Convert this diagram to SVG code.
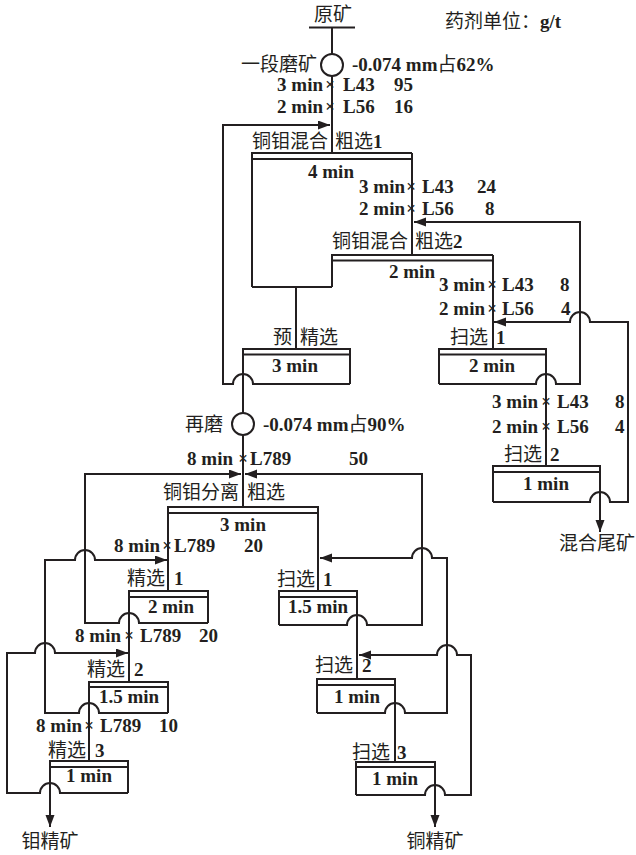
<svg xmlns="http://www.w3.org/2000/svg" width="636" height="855" viewBox="0 0 636 855">
<style>
.ln{fill:none;stroke:#231f20;stroke-width:2}
.cn{font-family:"Noto Sans CJK SC",sans-serif;font-size:19px;fill:#231f20}
.b{font-family:"Liberation Serif",serif;font-weight:bold;font-size:19px;fill:#231f20}
.x{font-family:"Liberation Serif",serif;font-weight:bold;font-size:17px;fill:#231f20;text-anchor:middle}
.r{font-family:"Liberation Serif",serif;font-size:19px;fill:#231f20}
.m{text-anchor:middle}
.e{text-anchor:end}
</style>
<defs>
<marker id="ar" markerUnits="userSpaceOnUse" markerWidth="13" markerHeight="10" refX="12" refY="4.5" orient="auto"><path d="M0,0 L12,4.5 L0,9 z" fill="#231f20"/></marker>
</defs>
<rect width="636" height="855" fill="#fff"/>

<g id="legend"><text x="445" y="28" class="cn">药剂单位：<tspan class="b">g/t</tspan></text></g>

<g id="feed"><text x="333" y="21" class="cn m">原矿</text><path class="ln" d="M309,27.5 L355,27.5"/></g>

<g id="grind1">
<circle cx="332" cy="65" r="11" class="ln"/>
<text x="317" y="71" class="cn e">一段磨矿</text>
<text x="352" y="71" class="b">-0.074 mm<tspan class="cn" font-weight="normal">占</tspan>62<tspan class="r">%</tspan></text>
<text x="323" y="91" class="b e">3 min</text><text x="330" y="90" class="x">×</text><text x="343" y="91" class="b">L43</text><text x="394" y="91" class="b">95</text>
<text x="323" y="113" class="b e">2 min</text><text x="330" y="112" class="x">×</text><text x="343" y="113" class="b">L56</text><text x="394" y="113" class="b">16</text>
</g>

<g id="rougher1">
<path class="ln" d="M252,287 L252,153 L412,153 M252,159 L412,159"/>
<text x="328" y="148" class="cn e">铜钼混合</text><text x="335" y="148" class="cn">粗选<tspan class="b">1</tspan></text>
<text x="331" y="178" class="b m">4 min</text>
<text x="405" y="193" class="b e">3 min</text><text x="411" y="192" class="x">×</text><text x="422" y="193" class="b">L43</text><text x="477" y="193" class="b">24</text>
<text x="405" y="215" class="b e">2 min</text><text x="411" y="214" class="x">×</text><text x="422" y="215" class="b">L56</text><text x="485" y="215" class="b">8</text>
</g>

<g id="rougher2">
<path class="ln" d="M332,287 L332,255 L493,255 M332,260.5 L493,260.5"/>
<text x="408" y="248" class="cn e">铜钼混合</text><text x="415" y="248" class="cn">粗选<tspan class="b">2</tspan></text>
<text x="412" y="278" class="b m">2 min</text>
<text x="485" y="291" class="b e">3 min</text><text x="492" y="290" class="x">×</text><text x="502" y="291" class="b">L43</text><text x="560" y="291" class="b">8</text>
<text x="485" y="315" class="b e">2 min</text><text x="492" y="314" class="x">×</text><text x="502" y="315" class="b">L56</text><text x="561" y="315" class="b">4</text>
</g>

<g id="precleaner">
<path class="ln" d="M243,384 L243,349 L350,349 L350,384 M243,354.5 L350,354.5"/>
<text x="292" y="344" class="cn e">预</text><text x="300" y="344" class="cn">精选</text>
<text x="295" y="372" class="b m">3 min</text>
</g>

<g id="scavA1">
<path class="ln" d="M439,384 L439,349 L546,349 L546,384 M439,354.5 L546,354.5"/>
<text x="488" y="344" class="cn e">扫选</text><text x="496" y="344" class="b">1</text>
<text x="492" y="372" class="b m">2 min</text>
<text x="538" y="408" class="b e">3 min</text><text x="546" y="407" class="x">×</text><text x="557" y="408" class="b">L43</text><text x="615" y="408" class="b">8</text>
<text x="538" y="433" class="b e">2 min</text><text x="546" y="432" class="x">×</text><text x="557" y="433" class="b">L56</text><text x="615" y="433" class="b">4</text>
</g>

<g id="scavA2">
<path class="ln" d="M493,502 L493,466 L600,466 L600,502 M493,472 L600,472"/>
<text x="542" y="461" class="cn e">扫选</text><text x="550" y="461" class="b">2</text>
<text x="546" y="490" class="b m">1 min</text>
</g>

<g id="tailA"><text x="597" y="550" class="cn m">混合尾矿</text></g>

<g id="regrind">
<circle cx="243" cy="424" r="11" class="ln"/>
<text x="223" y="431" class="cn e">再磨</text>
<text x="263" y="431" class="b">-0.074 mm<tspan class="cn" font-weight="normal">占</tspan>90<tspan class="r">%</tspan></text>
<text x="233" y="465" class="b e">8 min</text><text x="243" y="464" class="x">×</text><text x="250" y="465" class="b">L789</text><text x="349" y="465" class="b">50</text>
</g>

<g id="seprougher">
<path class="ln" d="M168,591 L168,507 L318,507 L318,591 M168,513 L318,513"/>
<text x="239" y="499" class="cn e">铜钼分离</text><text x="247" y="499" class="cn">粗选</text>
<text x="243" y="531" class="b m">3 min</text>
<text x="160" y="552" class="b e">8 min</text><text x="167" y="551" class="x">×</text><text x="174" y="552" class="b">L789</text><text x="244" y="552" class="b">20</text>
</g>

<g id="cleaner1">
<path class="ln" d="M129,623 L129,591 L208,591 L208,623 M129,597 L208,597"/>
<text x="165" y="585" class="cn e">精选</text><text x="174" y="585" class="b">1</text>
<text x="171" y="613" class="b m">2 min</text>
<text x="121" y="642" class="b e">8 min</text><text x="129" y="641" class="x">×</text><text x="140" y="642" class="b">L789</text><text x="199" y="642" class="b">20</text>
</g>

<g id="cleaner2">
<path class="ln" d="M89,713 L89,682 L168,682 L168,713 M89,687 L168,687"/>
<text x="125" y="676" class="cn e">精选</text><text x="134" y="676" class="b">2</text>
<text x="129" y="703" class="b m">1.5 min</text>
<text x="82" y="732" class="b e">8 min</text><text x="89" y="731" class="x">×</text><text x="100" y="732" class="b">L789</text><text x="159" y="732" class="b">10</text>
</g>

<g id="cleaner3">
<path class="ln" d="M50,793 L50,761 L128,761 L128,793 M50,767 L128,767"/>
<text x="86" y="757" class="cn e">精选</text><text x="95" y="757" class="b">3</text>
<text x="89" y="782" class="b m">1 min</text>
</g>

<g id="moconc"><text x="50" y="848" class="cn m">钼精矿</text></g>

<g id="scavB1">
<path class="ln" d="M279,625 L279,591 L357,591 L357,625 M279,597 L357,597"/>
<text x="315" y="586" class="cn e">扫选</text><text x="323" y="586" class="b">1</text>
<text x="318" y="613" class="b m">1.5 min</text>
</g>

<g id="scavB2">
<path class="ln" d="M317,713 L317,679 L395,679 L395,713 M317,685 L395,685"/>
<text x="353" y="672" class="cn e">扫选</text><text x="362" y="672" class="b">2</text>
<text x="357" y="703" class="b m">1 min</text>
</g>

<g id="scavB3">
<path class="ln" d="M356,795 L356,762 L435,762 L435,795 M356,767 L435,767"/>
<text x="390" y="759" class="cn e">扫选</text><text x="397" y="759" class="b">3</text>
<text x="395" y="785" class="b m">1 min</text>
</g>

<g id="cuconc"><text x="435" y="848" class="cn m">铜精矿</text></g>

<g id="connectors" class="ln">
<path d="M332,27.5 L332,54"/>
<path d="M332,76 L332,153"/>
<path d="M252,287 L332,287 M296,287 L296,349"/>
<path d="M412,153 L412,255"/>
<path d="M493,255 L493,349"/>
<path d="M350,384 L253,384 A10,10 0 0 0 233,384 L223,384 L223,125 L330,125" marker-end="url(#ar)"/>
<path d="M243,384 L243,413"/>
<path d="M439,384 L536,384 A10,10 0 0 1 556,384 L580,384 L580,222 L414,222" marker-end="url(#ar)"/>
<path d="M546,384 L546,466"/>
<path d="M493,502 L590,502 A10,10 0 0 1 610,502 L628,502 L628,322 L590,322 A10,10 0 0 0 570,322 L494,322" marker-end="url(#ar)"/>
<path d="M600,502 L600,532" marker-end="url(#ar)"/>
<path d="M243,435 L243,507"/>
<path d="M208,623 L139,623 A10,10 0 0 0 119,623 L85,623 L85,474 L241,474" marker-end="url(#ar)"/>
<path d="M129,623 L129,682"/>
<path d="M168,713 L99,713 A10,10 0 0 0 79,713 L45,713 L45,560 L75,560 A10,10 0 0 1 95,560 L167,560" marker-end="url(#ar)"/>
<path d="M89,713 L89,761"/>
<path d="M128,793 L60,793 A10,10 0 0 0 40,793 L7,793 L7,653 L35,653 A10,10 0 0 1 55,653 L128,653" marker-end="url(#ar)"/>
<path d="M50,793 L50,827" marker-end="url(#ar)"/>
<path d="M279,625 L347,625 A10,10 0 0 1 367,625 L422,625 L422,474 L245,474" marker-end="url(#ar)"/>
<path d="M357,625 L357,679"/>
<path d="M317,713 L385,713 A10,10 0 0 1 405,713 L447,713 L447,558 L432,558 A10,10 0 0 0 412,558 L320,558" marker-end="url(#ar)"/>
<path d="M395,713 L395,762"/>
<path d="M356,795 L425,795 A10,10 0 0 1 445,795 L471,795 L471,655 L457,655 A10,10 0 0 0 437,655 L359,655" marker-end="url(#ar)"/>
<path d="M435,795 L435,827" marker-end="url(#ar)"/>
</g>
</svg>
